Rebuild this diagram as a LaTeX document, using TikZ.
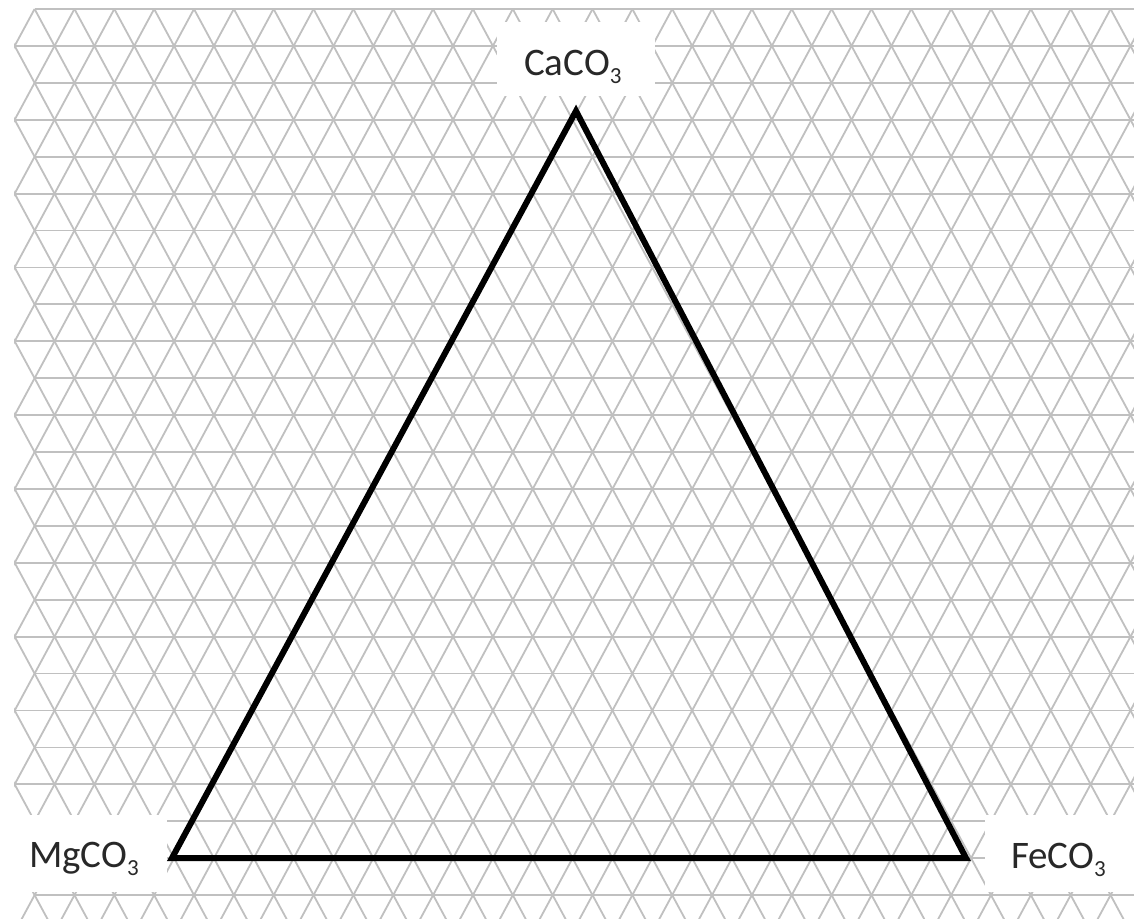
\documentclass[tikz,border=0pt]{standalone}
\usepackage{fontspec}
\setmainfont{Carlito}
\definecolor{gridgray}{RGB}{192,192,192}
\definecolor{labelink}{RGB}{40,40,40}
\newcommand\subthree{\raisebox{-8pt}{\fontsize{23}{23}\selectfont 3}}
\begin{document}
\begin{tikzpicture}[x=1pt,y=-1pt,
  gridline/.style={draw=gridgray, line width=1.8pt},
  blank/.style={fill=white, draw=none},
  edge/.style={draw=black, line width=6pt, line join=miter},
  lab/.style={anchor=base west, inner sep=0pt, text=labelink,
              font=\fontsize{39}{42}\selectfont}]
  \useasboundingbox (0,0) rectangle (1134,918);
  \fill[white] (0,0) rectangle (1134,918);
  % isometric-like grid
  \begin{scope}
    \clip (14.2,6) rectangle (1134,918);
    \foreach \r in {0,...,24}{
      \pgfmathsetmacro{\yy}{9+\r*36.92}
      \pgfmathsetmacro{\xs}{isodd(\r) ? 14.7 : 34.6}
      \draw[gridline] (\xs,\yy) -- (1134,\yy);
    }
    \foreach \k in {-14,...,28}{
      \pgfmathsetmacro{\xa}{34.6+39.85*\k}
      \pgfmathsetmacro{\xb}{\xa+19.925*26}
      \draw[gridline] (\xa,9) -- (\xb,968.92);
    }
    \foreach \k in {0,...,42}{
      \pgfmathsetmacro{\xa}{34.6+39.85*\k}
      \pgfmathsetmacro{\xb}{\xa-19.925*26}
      \draw[gridline] (\xa,9) -- (\xb,968.92);
    }
  \end{scope}
  % white label backgrounds
  \fill[blank] (497,22) rectangle (655,96);
  \fill[blank] (0,815) rectangle (167,892);
  \fill[blank] (985,815) rectangle (1134,892);
  % triangle
  \coordinate (ca) at (576,111);
  \coordinate (mg) at (172,858);
  \coordinate (fe) at (966,858);
  \draw[edge] (ca) -- (fe) -- (mg) -- cycle;
  % labels
  \node[lab] (lca) at (524,75) {CaCO\subthree};
  \node[lab] (lmg) at (29,867) {MgCO\subthree};
  \node[lab] (lfe) at (1011,868) {FeCO\subthree};
\end{tikzpicture}
\end{document}
